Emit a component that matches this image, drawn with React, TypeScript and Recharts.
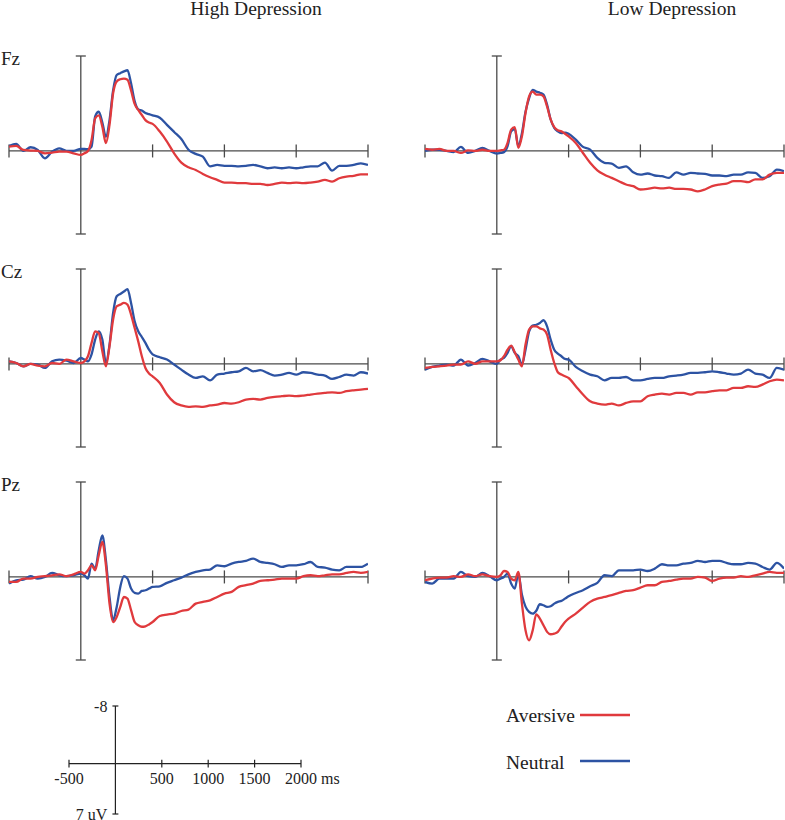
import { LineChart, Line, XAxis, YAxis, ReferenceLine } from 'recharts';

const SERIF = '"Liberation Serif", "Times New Roman", serif';

// time axis (ms) shared by all waveforms
const TIMES = [
  -500, -450, -400, -350, -300, -250, -200, -150, -100, -50,
  0, 25, 50, 75, 100, 125, 150, 175, 200, 225, 250, 275, 300, 325, 350, 375, 400, 425, 450, 475, 500,
  550, 600, 650, 700, 750, 800, 850, 900, 950, 1000,
  1050, 1100, 1150, 1200, 1250, 1300, 1350, 1400, 1450, 1500,
  1550, 1600, 1650, 1700, 1750, 1800, 1850, 1900, 1950, 2000,
];

const GROUPS = ['High Depression', 'Low Depression'];
const CHANNELS = ['Fz', 'Cz', 'Pz'];
const CONDITIONS = ['Aversive', 'Neutral'];
const X_TICKS = [-500, 500, 1000, 1500, 2000];
const Y_LIMITS = [-8, 7];
const Y_LIMIT_LABELS = ['-8', '7 uV'];
const X_UNIT = 'ms';

// amplitudes in uV, negative plotted upward
const FZ_HIGH_AVERSIVE = [
  -0.37, -0.42, -0.08, -0.03, 0, 0.2, 0.14, 0.06, 0.06, 0.2,
  0.34, 0.2, 0, -0.93, -2.75, -3.0, -2.05, -0.65, -2.2, -4.86, -5.85, -6.04, -6.1, -6.0, -5.1, -3.96, -3.45, -3.03, -2.6, -2.4, -2.28,
  -1.63, -0.79, 0.2, 0.98, 1.38, 1.6, 1.94, 2.22, 2.44, 2.67,
  2.67, 2.72, 2.72, 2.78, 2.78, 2.87, 2.78, 2.67, 2.72, 2.67,
  2.72, 2.67, 2.58, 2.44, 2.58, 2.3, 2.16, 2.1, 1.97, 1.97,
];
const FZ_HIGH_NEUTRAL = [
  -0.42, -0.59, 0.0, -0.31, -0.08, 0.62, 0.06, -0.22, 0, 0,
  -0.17, -0.17, -0.14, -0.37, -2.9, -3.3, -2.4, -1.2, -2.6, -5.1, -6.4, -6.55, -6.7, -6.8, -5.7, -4.2, -3.5, -3.4, -3.2, -3.1, -3.0,
  -2.8, -2.2, -1.6, -1.0, -0.1, 0.25, 0.48, 1.3, 1.18, 1.26,
  1.26, 1.3, 1.26, 1.18, 1.3, 1.46, 1.38, 1.46, 1.38, 1.46,
  1.38, 1.3, 1.3, 0.98, 1.66, 1.26, 1.26, 1.18, 1.04, 1.18,
];
const FZ_LOW_AVERSIVE = [
  -0.17, -0.1, -0.17, 0, 0, 0.17, -0.05, 0, -0.1, 0,
  0, -0.05, -0.1, -0.67, -1.8, -2.0, -0.25, -1.23, -3.2, -4.6, -5.0, -4.75, -4.75, -4.6, -3.75, -2.65, -2.0, -1.75, -1.65, -1.45, -1.23,
  -0.67, 0.17, 1.0, 1.63, 2.0, 2.27, 2.55, 2.83, 2.97, 3.25,
  3.2, 3.1, 3.15, 3.1, 3.2, 3.2, 3.25, 3.4, 3.25, 2.97,
  2.83, 2.75, 2.55, 2.55, 2.63, 2.4, 2.4, 2.0, 1.85, 1.85,
];
const FZ_LOW_NEUTRAL = [
  0, -0.1, -0.1, 0, 0.1, -0.34, 0.17, 0, -0.25, 0,
  0.22, 0.17, 0.1, -0.4, -1.65, -1.85, -0.4, -1.5, -3.3, -4.45, -5.15, -5.0, -4.9, -4.75, -3.9, -2.65, -1.95, -1.65, -1.5, -1.55, -1.45,
  -0.95, -0.34, -0.11, 0.59, 1.0, 1.07, 1.43, 1.3, 1.8, 2.0,
  1.9, 2.07, 2.13, 2.27, 1.8, 2.0, 1.85, 1.9, 1.93, 2.07,
  2.07, 2.13, 2.0, 2.0, 1.8, 1.85, 2.27, 2.13, 1.57, 1.7,
];
const CZ_HIGH_AVERSIVE = [
  -0.22, -0.08, 0.2, 0, 0.14, 0.2, -0.08, 0, -0.37, -0.22,
  -0.08, -0.22, -0.65, -1.77, -2.75, -2.6, -1.07, 0.2, -1.5, -3.74, -4.86, -5.0, -5.14, -5.0, -4.16, -3.03, -1.9, -0.65, 0.34, 0.81, 1.04,
  1.6, 2.58, 3.23, 3.5, 3.62, 3.57, 3.62, 3.5, 3.43, 3.29,
  3.34, 3.23, 3.0, 2.95, 3.0, 2.87, 2.78, 2.72, 2.67, 2.72,
  2.67, 2.58, 2.5, 2.44, 2.39, 2.44, 2.3, 2.22, 2.16, 2.1,
];
const CZ_HIGH_NEUTRAL = [
  -0.22, -0.08, 0.2, 0, 0.05, 0.34, -0.22, -0.37, -0.28, -0.08,
  -0.5, -0.37, -0.22, -0.8, -2.05, -2.75, -2.05, -0.08, -1.63, -4.3, -5.7, -5.9, -6.1, -6.3, -5.14, -3.6, -2.75, -2.27, -1.77, -1.2, -0.8,
  -0.56, -0.37, 0.05, 0.48, 0.9, 1.18, 1.04, 1.38, 0.9, 0.81,
  0.7, 0.62, 0.34, 0.62, 0.53, 0.76, 0.98, 0.9, 0.76, 0.9,
  0.7, 0.76, 0.9, 0.98, 1.26, 1.1, 0.9, 0.98, 0.7, 0.81,
];
const CZ_LOW_AVERSIVE = [
  0.34, 0.25, 0.2, 0.14, 0.05, 0.05, -0.22, 0, -0.22, -0.22,
  -0.22, -0.3, -0.65, -1.2, -1.55, -0.98, -0.37, 0.2, -1.63, -2.9, -3.17, -3.17, -3.0, -2.9, -2.47, -1.2, -0.08, 0.7, 0.9, 1.04, 1.18,
  1.88, 2.58, 3.15, 3.34, 3.43, 3.34, 3.5, 3.29, 3.15, 3.15,
  2.72, 2.58, 2.5, 2.58, 2.44, 2.44, 2.58, 2.39, 2.39, 2.3,
  2.22, 2.22, 2.02, 2.02, 1.88, 1.94, 1.74, 1.46, 1.32, 1.38,
];
const CZ_LOW_NEUTRAL = [
  0.48, 0.25, 0.14, 0.05, 0.14, -0.37, 0.14, -0.08, -0.42, -0.22,
  0, -0.37, -0.5, -0.93, -1.5, -0.93, -0.65, 0.05, -1.2, -2.75, -3.23, -3.3, -3.45, -3.68, -3.17, -2.05, -1.2, -0.87, -0.65, -0.42, -0.37,
  0.25, 0.62, 0.9, 1.04, 1.38, 1.18, 1.18, 1.1, 1.38, 1.38,
  1.26, 1.18, 1.18, 1.04, 0.98, 0.9, 0.76, 0.76, 0.7, 0.62,
  0.7, 0.81, 0.9, 0.81, 0.48, 0.81, 0.9, 1.18, 0.34, 0.48,
];
const PZ_HIGH_AVERSIVE = [
  0.42, 0.42, 0.14, 0.14, 0, -0.06, -0.14, -0.22, -0.06, -0.22,
  -0.42, -0.28, -0.56, -0.98, -0.56, -1.83, -2.95, -0.98, 2.25, 3.8, 3.37, 2.53, 1.69, 1.83, 2.8, 3.8, 4.07, 4.2, 4.16, 4.0, 3.8,
  3.29, 3.17, 3.09, 2.87, 2.75, 2.25, 2.1, 1.97, 1.69, 1.4,
  1.26, 0.84, 0.7, 0.56, 0.34, 0.28, 0.22, 0.14, 0.14, 0.14,
  -0.06, -0.14, -0.06, -0.14, -0.22, -0.22, -0.34, -0.42, -0.34, -0.42,
];
const PZ_HIGH_NEUTRAL = [
  0.56, 0.28, 0.22, -0.06, 0.14, 0, -0.34, -0.14, -0.06, -0.14,
  -0.28, -0.14, 0.14, -1.12, -0.7, -2.25, -3.5, -1.4, 1.69, 3.65, 2.53, 0.84, -0.06, 0.14, 0.98, 1.35, 1.4, 1.18, 1.12, 0.98, 0.84,
  0.79, 0.5, 0.28, 0.06, -0.22, -0.42, -0.56, -0.62, -0.98, -0.9,
  -1.12, -1.26, -1.35, -1.55, -1.26, -1.18, -1.07, -0.84, -0.98, -0.98,
  -1.07, -1.26, -0.84, -0.79, -0.62, -0.56, -0.84, -0.84, -0.84, -1.12,
];
const PZ_LOW_AVERSIVE = [
  0.28, 0.14, 0.06, 0.06, -0.06, 0, -0.22, -0.06, -0.22, -0.06,
  0, -0.14, -0.5, -0.42, 0.14, 0.28, -0.42, 2.25, 4.5, 5.34, 4.5, 3.15, 3.51, 4.07, 4.63, 4.83, 4.78, 4.63, 4.2, 3.8, 3.51,
  3.09, 2.58, 2.1, 1.83, 1.69, 1.54, 1.35, 1.18, 1.12, 0.9,
  0.7, 0.7, 0.42, 0.34, 0.22, 0.14, 0.14, 0, 0.06, 0.34,
  0.14, 0.06, 0.06, -0.06, 0, -0.14, -0.28, -0.42, -0.34, -0.34,
];
const PZ_LOW_NEUTRAL = [
  0.42, 0.56, 0.14, 0.14, 0.14, -0.42, -0.06, 0, -0.34, -0.06,
  0.28, 0.14, 0, -0.28, 0.56, 0.98, -0.28, 1.5, 2.5, 2.95, 3.1, 2.85, 2.3, 2.39, 2.53, 2.47, 2.25, 2.1, 2.02, 1.83, 1.63,
  1.35, 1.12, 0.79, 0.5, -0.14, -0.06, -0.56, -0.56, -0.56, -0.62,
  -0.5, -0.7, -1.07, -0.98, -0.98, -1.12, -1.18, -1.35, -1.26, -1.35,
  -1.35, -1.18, -1.07, -1.07, -1.18, -1.12, -0.84, -0.62, -1.18, -0.7,
];

// rows = channels, columns = groups
const PANELS = [
  [[FZ_HIGH_AVERSIVE, FZ_HIGH_NEUTRAL], [FZ_LOW_AVERSIVE, FZ_LOW_NEUTRAL]],
  [[CZ_HIGH_AVERSIVE, CZ_HIGH_NEUTRAL], [CZ_LOW_AVERSIVE, CZ_LOW_NEUTRAL]],
  [[PZ_HIGH_AVERSIVE, PZ_HIGH_NEUTRAL], [PZ_LOW_AVERSIVE, PZ_LOW_NEUTRAL]],
];

const RED = '#e03a3d';
const BLUE = '#2d53a3';
const AXIS = '#4a4a4a';
const TEXT = '#222';

const PLOT_W = 359;
const PLOT_H = 178;
const PAD = 6;
const COL_X = [9, 425];
const ROW_Y = [56, 269, 482];

function ErpPanel({ aversive, neutral, left, top }: { aversive: number[]; neutral: number[]; left: number; top: number }) {
  const data = TIMES.map((t, i) => ({ t, aversive: aversive[i], neutral: neutral[i] }));
  return (
    <div style={{ position: 'absolute', left: left - PAD, top: top - PAD }}>
      <LineChart
        width={PLOT_W + 2 * PAD}
        height={PLOT_H + 2 * PAD}
        data={data}
        margin={{ top: PAD, right: PAD, bottom: PAD, left: PAD }}
      >
        <XAxis type="number" dataKey="t" domain={[-500, 2000]} allowDataOverflow hide />
        <YAxis type="number" domain={Y_LIMITS} allowDataOverflow reversed hide />
        <ReferenceLine y={0} stroke={AXIS} strokeWidth={1.3} />
        {X_TICKS.map((x) => (
          <ReferenceLine key={x} segment={[{ x, y: -0.55 }, { x, y: 0.55 }]} stroke={AXIS} strokeWidth={1.3} />
        ))}
        <ReferenceLine segment={[{ x: 0, y: Y_LIMITS[0] }, { x: 0, y: Y_LIMITS[1] }]} stroke={AXIS} strokeWidth={1.3} />
        {Y_LIMITS.map((y) => (
          <ReferenceLine key={y} segment={[{ x: -35, y }, { x: 35, y }]} stroke={AXIS} strokeWidth={1.3} />
        ))}
        <Line type="monotone" dataKey="neutral" stroke={BLUE} strokeWidth={2.3} dot={false} isAnimationActive={false} />
        <Line type="monotone" dataKey="aversive" stroke={RED} strokeWidth={2.3} dot={false} isAnimationActive={false} />
      </LineChart>
    </div>
  );
}

const tickLabel = (text: string, suffix?: string) => (props: any) => {
  const vb = props.viewBox || {};
  const cx = (vb.x ?? 0) + (vb.width ?? 0) / 2;
  const y = (vb.y ?? 0) + (vb.height ?? 0) + 16;
  return (
    <text
      x={suffix ? cx - 16 : cx}
      y={y}
      textAnchor={suffix ? 'start' : 'middle'}
      fontSize={16}
      fill={TEXT}
      fontFamily={SERIF}
    >
      {suffix ? `${text} ${suffix}` : text}
    </text>
  );
};

function ScaleBar() {
  const w = 232;
  const h = 108;
  const data = TIMES.map((t) => ({ t }));
  return (
    <div style={{ position: 'absolute', left: 69 - 50, top: 706 - 10 }}>
      <LineChart width={w + 100} height={h + 40} data={data} margin={{ top: 10, right: 50, bottom: 30, left: 50 }}>
        <XAxis type="number" dataKey="t" domain={[-500, 2000]} allowDataOverflow hide />
        <YAxis type="number" domain={Y_LIMITS} allowDataOverflow reversed hide />
        <ReferenceLine y={0} stroke={TEXT} strokeWidth={1.2} />
        {X_TICKS.map((x, i) => (
          <ReferenceLine
            key={x}
            segment={[{ x, y: -0.55 }, { x, y: 0.55 }]}
            stroke={TEXT}
            strokeWidth={1.2}
            label={tickLabel(String(x), i === X_TICKS.length - 1 ? X_UNIT : undefined)}
          />
        ))}
        <ReferenceLine segment={[{ x: 0, y: Y_LIMITS[0] }, { x: 0, y: Y_LIMITS[1] }]} stroke={TEXT} strokeWidth={1.2} />
        {Y_LIMITS.map((y, i) => (
          <ReferenceLine
            key={y}
            segment={[{ x: -32, y }, { x: 32, y }]}
            stroke={TEXT}
            strokeWidth={1.2}
            label={{ value: Y_LIMIT_LABELS[i], position: 'left', offset: 5, fontSize: 16, fill: TEXT, fontFamily: SERIF }}
          />
        ))}
      </LineChart>
    </div>
  );
}

export default function App() {
  const colors: Record<string, string> = { Aversive: RED, Neutral: BLUE };
  return (
    <div
      style={{
        position: 'absolute',
        left: 0,
        top: 0,
        width: 785,
        height: 820,
        overflow: 'hidden',
        background: '#fff',
        fontFamily: SERIF,
      }}
    >
      {PANELS.map((row, r) =>
        row.map(([aversive, neutral], c) => (
          <ErpPanel key={`${r}-${c}`} aversive={aversive} neutral={neutral} left={COL_X[c]} top={ROW_Y[r]} />
        )),
      )}
      <ScaleBar />
      <svg width={785} height={820} style={{ position: 'absolute', left: 0, top: 0, pointerEvents: 'none' }}>
        <text x={256} y={15} textAnchor="middle" fontSize={19.5} fill={TEXT} fontFamily={SERIF}>
          {GROUPS[0]}
        </text>
        <text x={672} y={15} textAnchor="middle" fontSize={19.5} fill={TEXT} fontFamily={SERIF}>
          {GROUPS[1]}
        </text>
        {CHANNELS.map((ch, r) => (
          <text key={ch} x={1} y={ROW_Y[r] + 9} fontSize={19} fill={TEXT} fontFamily={SERIF}>
            {ch}
          </text>
        ))}
        {CONDITIONS.map((cond, i) => (
          <g key={cond}>
            <text x={506} y={722 + i * 47} fontSize={19.5} fill={TEXT} fontFamily={SERIF}>
              {cond}
            </text>
            <line x1={580} x2={630} y1={715 + i * 46} y2={715 + i * 46} stroke={colors[cond]} strokeWidth={2.5} />
          </g>
        ))}
      </svg>
    </div>
  );
}
